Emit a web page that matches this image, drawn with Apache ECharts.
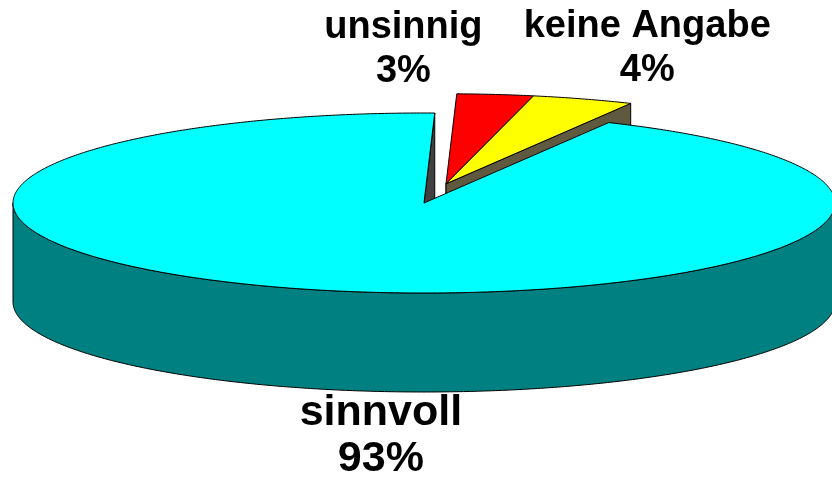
<!DOCTYPE html>
<html>
<head>
<meta charset="utf-8">
<script src="https://cdn.jsdelivr.net/npm/echarts@6/dist/echarts.min.js"></script>
<style>
html,body{margin:0;padding:0;background:#fff;}
#main{width:832px;height:480px;}
</style>
</head>
<body>
<div id="main"></div>
<script>
// ---- data ----
var categories = ['unsinnig', 'keine Angabe', 'sinnvoll'];
var values = [3, 4, 93];

// ---- styles / layout (not data) ----
var topColors  = ['#FF0000', '#FFFF00', '#00FFFF'];
var wallColors = ['#800000', '#808000', '#008080'];
var faceColors = ['#602020', '#5F5A3F', '#404040'];
var explodedFlags = [true, true, false];
var labelShift = [[-92, -45], [64, -50], [57, 47]];
var labelFontSize = [38, 38, 43];
var labelLineHeight = [44, 44, 46];
var CX = 424, CY = 203, RX = 411, RY = 90, DEPTH = 99;
var START_ANGLE = 1.5;   // degrees, clockwise from 12 o'clock
var EXPLODE = 0.22;      // fraction of radius

var total = values.reduce(function (a, b) { return a + b; }, 0);

// slice angles from data
var slices = [];
(function () {
  var a = START_ANGLE;
  for (var i = 0; i < values.length; i++) {
    var sweep = values[i] / total * 360;
    slices.push({ a0: a, a1: a + sweep });
    a += sweep;
  }
  var first = null, last = null;
  for (var j = 0; j < slices.length; j++) {
    if (explodedFlags[j]) { if (first === null) first = slices[j].a0; last = slices[j].a1; }
  }
  var phi = first === null ? 0 : (first + last) / 2 * Math.PI / 180;
  var ex = RX * EXPLODE * Math.sin(phi), ey = -RY * EXPLODE * Math.cos(phi);
  for (var k = 0; k < slices.length; k++) {
    slices[k].ox = explodedFlags[k] ? ex : 0;
    slices[k].oy = explodedFlags[k] ? ey : 0;
  }
})();

function P(aDeg, ox, oy, dz) {
  var t = aDeg * Math.PI / 180;
  return [CX + ox + RX * Math.sin(t), CY + oy - RY * Math.cos(t) + dz];
}
function arc(s, e, ox, oy, dz) {
  var pts = [];
  var n = Math.max(2, Math.ceil(Math.abs(e - s) / 0.5));
  for (var i = 0; i <= n; i++) pts.push(P(s + (e - s) * i / n, ox, oy, dz));
  return pts;
}
var lineStyle = { stroke: '#000', lineWidth: 1, lineJoin: 'round' };

function renderWalls(params, api) {
  var i = params.dataIndex;
  var g = slices[i];
  var v = api.value(0);
  var children = [];
  function face(a) {
    var c = [CX + g.ox, CY + g.oy];
    var p = P(a, g.ox, g.oy, 0);
    return { type: 'polygon', shape: { points: [c, p, [p[0], p[1] + DEPTH], [c[0], c[1] + DEPTH]] },
      style: Object.assign({ fill: faceColors[i] }, lineStyle) };
  }
  // radial cut faces first (they lie behind the rim)
  if (v > 0 && v < total) {
    if (Math.sin(g.a1 * Math.PI / 180) > 0) children.push(face(g.a1));
    if (Math.sin(g.a0 * Math.PI / 180) < 0) children.push(face(g.a0));
  }
  // visible outer wall: where the rim faces the viewer (90..270 deg)
  var ranges = [[90, 270], [450, 630], [-270, -90]];
  ranges.forEach(function (r) {
    var s = Math.max(g.a0, r[0]), e = Math.min(g.a1, r[1]);
    if (e > s) {
      var pts = arc(s, e, g.ox, g.oy, 0).concat(arc(e, s, g.ox, g.oy, DEPTH));
      children.push({ type: 'polygon', shape: { points: pts },
        style: Object.assign({ fill: wallColors[i] }, lineStyle) });
    }
  });
  return { type: 'group', children: children };
}

function renderTops(params, api) {
  var i = params.dataIndex;
  var g = slices[i];
  var v = api.value(0);
  var c = [CX + g.ox, CY + g.oy];
  var pts = [c].concat(arc(g.a0, g.a1, g.ox, g.oy, 0));
  var mid = (g.a0 + g.a1) / 2;
  var anchor = P(mid, g.ox, g.oy, 0);
  if (Math.cos(mid * Math.PI / 180) < 0) anchor[1] += DEPTH;
  var pct = Math.round(v / total * 100) + '%';
  return {
    type: 'group',
    children: [
      { type: 'polygon', shape: { points: pts },
        style: Object.assign({ fill: topColors[i] }, lineStyle) },
      { type: 'text', x: anchor[0] + labelShift[i][0], y: anchor[1] + labelShift[i][1],
        style: { text: categories[i] + '\n' + pct, fill: '#000',
          fontFamily: '"Liberation Sans", Arial, sans-serif', fontWeight: 'bold',
          fontSize: labelFontSize[i], lineHeight: labelLineHeight[i],
          align: 'center', verticalAlign: 'middle' } }
    ]
  };
}

var chart = echarts.init(document.getElementById('main'), null, { renderer: 'canvas' });
chart.setOption({
  animation: false,
  backgroundColor: '#ffffff',
  series: [
    { type: 'custom', name: 'walls', coordinateSystem: 'none', z: 1, silent: true,
      data: values.map(function (v, i) { return { name: categories[i], value: [v] }; }),
      renderItem: renderWalls },
    { type: 'custom', name: 'tops', coordinateSystem: 'none', z: 2,
      data: values.map(function (v, i) { return { name: categories[i], value: [v] }; }),
      renderItem: renderTops }
  ]
});
</script>
</body>
</html>
